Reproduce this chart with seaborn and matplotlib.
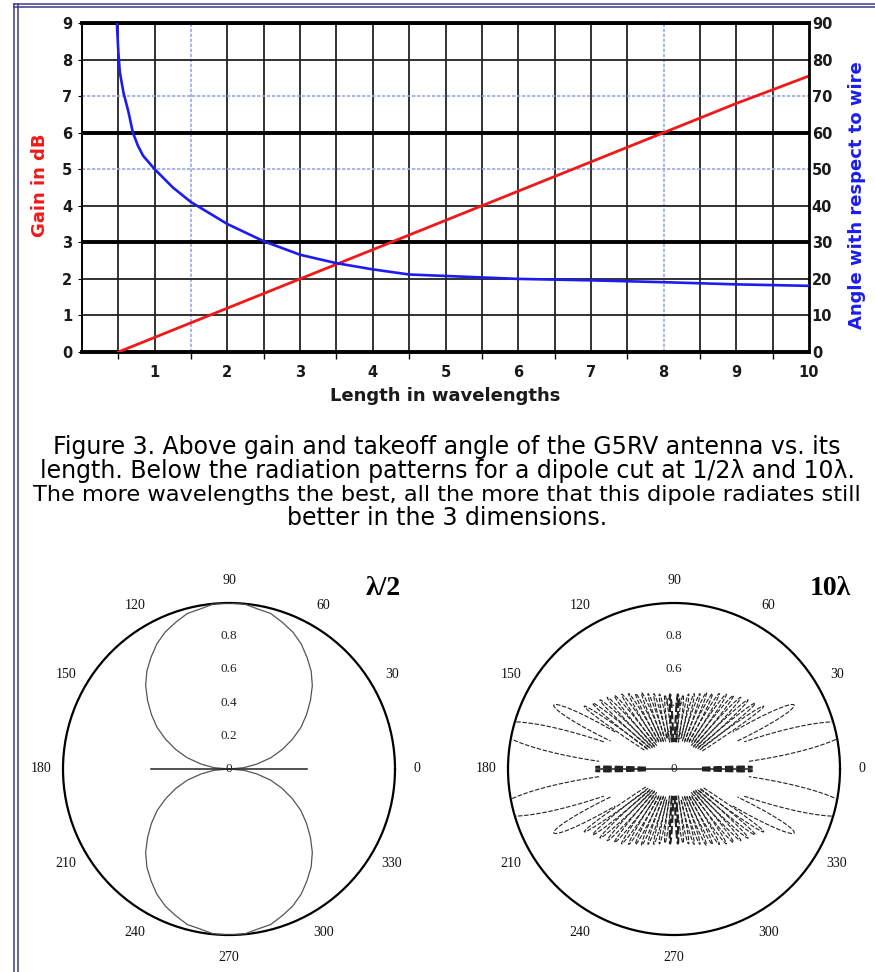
import numpy as np
import matplotlib
matplotlib.use("Agg")
import matplotlib.pyplot as plt
import seaborn as sns
from matplotlib.lines import Line2D

# ---- top chart: gain and takeoff angle vs length ----
gain_len = [0.5, 1, 2, 3, 4, 5, 6, 7, 8, 9, 10]
gain_db = [0, 0.4, 1.2, 2.0, 2.8, 3.6, 4.4, 5.2, 6.0, 6.8, 7.55]

angle_len = [0.48, 0.5, 0.52, 0.57, 0.64, 0.7, 0.77, 0.84, 1.0, 1.25, 1.5, 2.0,
             2.5, 3.0, 3.5, 4.0, 4.5, 5.0, 5.5, 6.0, 7.0, 8.0, 9.0, 10.0]
angle_deg = [90, 82, 76.6, 71, 65.6, 60, 56.4, 53.7, 50, 45, 41, 35,
             30.3, 26.6, 24.3, 22.6, 21.2, 20.8, 20.4, 20.0, 19.6, 19.1, 18.5, 18.1]

gain_ticks = list(range(0, 10))
angle_ticks = list(range(0, 100, 10))
len_ticks = list(range(1, 11))

# ---- polar patterns ----
polar_ticks = [0, 30, 60, 90, 120, 150, 180, 210, 240, 270, 300, 330]
radial_labels = ["0", "0.2", "0.4", "0.6", "0.8"]
radial_pos = [0, 0.2, 0.4, 0.6, 0.8]

# half-wave dipole, one quadrant (deg, relative field)
dipole_theta = [0, 5, 10, 15, 20, 25, 30, 35, 40, 45, 50, 55, 60, 65, 70, 75, 80, 85, 90]
dipole_r = [0, 0.09, 0.17, 0.26, 0.34, 0.42, 0.50, 0.57, 0.64, 0.71, 0.77,
            0.82, 0.87, 0.91, 0.94, 0.97, 0.98, 1.0, 1.0]
wire_r = 0.47

# 10 lambda dipole lobes in one quadrant: direction, length, half width (deg),
# and the radius below which the lobe edges are not drawn
lobe_dir = [1.5, 13.5, 28, 35, 39, 43, 47, 51, 55, 59, 63, 67, 71, 75, 79, 83, 87]
lobe_len = [0.47, 1.1, 0.82, 0.66, 0.63, 0.61, 0.59, 0.57, 0.55, 0.53, 0.51,
            0.50, 0.48, 0.47, 0.46, 0.45, 0.45]
lobe_half = [1.5, 10, 6, 3, 3, 3, 3, 3, 3, 3, 3, 3, 3, 3, 3, 3, 2]
lobe_inner = [0.15, 0.4, 0.4, 0.17, 0.17, 0.17, 0.17, 0.17, 0.17, 0.17, 0.17,
              0.17, 0.17, 0.17, 0.17, 0.15, 0.15]

W, H = 875, 972
fig = plt.figure(figsize=(W / 100, H / 100), dpi=100)
fig.patch.set_facecolor("white")

bold = dict(family="DejaVu Sans", fontweight="bold")

# ---------------- top chart ----------------
ax = fig.add_axes([82 / W, 1 - 352 / H, 727 / W, 329 / H])
ax2 = ax.twinx()

ax.set_xlim(0, 10)
ax.set_ylim(0, 9)
ax2.set_ylim(0, 90)

for v in np.arange(0.5, 10, 0.5):
    if v in (1.5, 8):
        ax.axvline(v, color="#9aa8e6", lw=1.2, ls=(0, (2, 1)), zorder=1)
    else:
        ax.axvline(v, color="#222222", lw=1.3, zorder=1)
for h in gain_ticks[1:]:
    if h in (3, 6, 9):
        ax.axhline(h, color="black", lw=2.8, zorder=1)
    elif h in (5, 7):
        ax.axhline(h, color="#9aa8e6", lw=1.2, ls=(0, (2, 1)), zorder=1)
    else:
        ax.axhline(h, color="#222222", lw=1.3, zorder=1)

sns.lineplot(x=gain_len, y=gain_db, ax=ax, color="#f01818", lw=2.0, zorder=3)
sns.lineplot(x=angle_len, y=angle_deg, ax=ax2, color="#1c1cf0", lw=1.9,
             sort=False, zorder=3)

ax.spines["bottom"].set_linewidth(2.8)
ax.spines["top"].set_linewidth(2.8)
ax.spines["left"].set_linewidth(1.4)
for s in ax2.spines.values():
    s.set_visible(False)
ax2.spines["right"].set_visible(True)
ax2.spines["right"].set_linewidth(2.0)

ax.set_xticks(len_ticks)
ax.set_xticks(np.arange(0.5, 10, 1.0), minor=True)
ax.set_xticklabels([str(t) for t in len_ticks], fontsize=10.5, color="#1a1a1a", **bold)
ax.tick_params(axis="x", which="major", length=0, pad=9)
ax.tick_params(axis="x", which="minor", length=5, width=1, direction="out")

ax.set_yticks(gain_ticks)
ax.set_yticklabels([str(t) for t in gain_ticks], fontsize=10.5, color="#1a1a1a", **bold)
ax.tick_params(axis="y", length=3, pad=4)

ax2.set_yticks(angle_ticks)
ax2.set_yticklabels([str(t) for t in angle_ticks], fontsize=10.5, color="#1a1a1a", **bold)
ax2.tick_params(axis="y", length=0, pad=2)

ax.set_xlabel("Length in wavelengths", fontsize=13, color="#1a1a1a", **bold)
ax.xaxis.set_label_coords(0.499, -0.106)
ax.set_ylabel("Gain in dB", fontsize=13, color="#f01818", **bold)
ax.yaxis.set_label_coords(-0.045, 0.508)
ax2.set_ylabel("Angle with respect to wire", fontsize=13, color="#1c1cf0", **bold)
ax2.yaxis.set_label_coords(1.054, 0.477)

# ---------------- caption ----------------
caption = [
    "Figure 3. Above gain and takeoff angle of the G5RV antenna vs. its",
    "length. Below the radiation patterns for a dipole cut at 1/2\u03bb and 10\u03bb.",
    "The more wavelengths the best, all the more that this dipole radiates still",
    "better in the 3 dimensions.",
]
caption_size = [17, 17, 16.2, 17]
for i, (line, fs) in enumerate(zip(caption, caption_size)):
    fig.text(447 / W, 1 - (454 + 23.5 * i) / H, line, ha="center", va="baseline",
             family="DejaVu Sans", fontsize=fs, color="black")


# ---------------- polar patterns ----------------
def setup_polar(pax):
    pax.set_ylim(0, 1)
    pax.grid(False)
    pax.set_yticks([])
    pax.set_xticks(np.deg2rad(polar_ticks))
    pax.set_xticklabels([str(t) for t in polar_ticks], family="Liberation Serif",
                        fontsize=10, color="#111111")
    pax.tick_params(axis="x", pad=9, length=0)
    pax.spines["polar"].set_linewidth(1.6)
    pax.spines["polar"].set_color("black")
    for rp, rl in zip(radial_pos, radial_labels):
        pax.text(np.pi / 2 if rp > 0 else 0, rp, rl, ha="center", va="center",
                 family="Liberation Serif", fontsize=9.5, color="#222222", zorder=2)


r = 166
pax1 = fig.add_axes([(229 - r) / W, 1 - (769 + r) / H, 2 * r / W, 2 * r / H],
                    projection="polar")
pax2 = fig.add_axes([(674 - r) / W, 1 - (769 + r) / H, 2 * r / W, 2 * r / H],
                    projection="polar")
setup_polar(pax1)
setup_polar(pax2)

# dipole: mirror the quadrant into the four quadrants
q = np.deg2rad(dipole_theta)
dr = np.array(dipole_r)
upper_t = np.concatenate([q, np.pi - q[::-1]])
upper_r = np.concatenate([dr, dr[::-1]])
for t_off in (0, np.pi):
    sns.lineplot(x=upper_t + t_off, y=upper_r, ax=pax1, sort=False,
                 color="#555555", lw=0.9, zorder=3)
for ang in (0, np.pi):
    pax1.plot([ang, ang], [0, wire_r], color="#222222", lw=1.1, zorder=3)

# 10 lambda: petal per lobe, reflected into the four quadrants
tt = np.linspace(-1, 1, 61)
for c, L, w, r0 in zip(lobe_dir, lobe_len, lobe_half, lobe_inner):
    heavy = c < 5 or c > 85
    rr = L * (1 - tt ** 2)
    rr = np.where(rr < r0, np.nan, rr)
    for base in (c, 180 - c, 180 + c, 360 - c):
        th = np.deg2rad(base + w * tt)
        pax2.plot(th, rr, color="#222222", lw=1.5 if heavy else 0.8,
                  ls=(0, (4, 1.5)), zorder=3)
for ang in (0, np.pi):
    pax2.plot([ang, ang], [0, wire_r], color="#222222", lw=1.1, zorder=3)

fig.text(383 / W, 1 - 588 / H, "\u03bb/2", ha="center", va="center",
         family="Liberation Serif", fontweight="bold", fontsize=20)
fig.text(830 / W, 1 - 588 / H, "10\u03bb", ha="center", va="center",
         family="Liberation Serif", fontweight="bold", fontsize=20)

# page frame (double blue rule)
navy = "#3a3a88"
for x in (14.5, 17.5):
    fig.add_artist(Line2D([x / W, x / W], [0, 1 - 4.5 / H], transform=fig.transFigure,
                          color=navy, lw=1.1))
for y in (4.5, 7.5):
    fig.add_artist(Line2D([14.5 / W, 1], [1 - y / H, 1 - y / H], transform=fig.transFigure,
                          color=navy, lw=1.1))

fig.savefig("out.png", dpi=100)
